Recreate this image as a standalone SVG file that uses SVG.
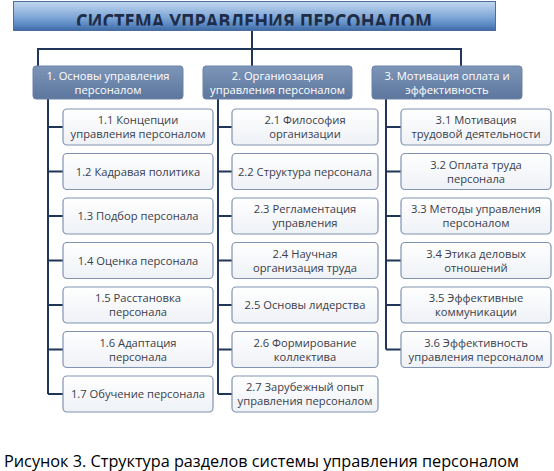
<svg xmlns="http://www.w3.org/2000/svg" width="554" height="471" viewBox="0 0 554 471">
<defs>
<linearGradient id="gTitle" x1="0" y1="0" x2="0" y2="1">
<stop offset="0" stop-color="#c4d8ef"/>
<stop offset="0.55" stop-color="#7ea6d6"/>
<stop offset="0.8" stop-color="#5a88c2"/>
<stop offset="1" stop-color="#3f6aa3"/>
</linearGradient>
<linearGradient id="gL1" x1="0" y1="0" x2="0" y2="1">
<stop offset="0" stop-color="#7d95b8"/>
<stop offset="1" stop-color="#5c769d"/>
</linearGradient>
<linearGradient id="gChild" x1="0" y1="0" x2="0" y2="1">
<stop offset="0" stop-color="#ffffff"/>
<stop offset="1" stop-color="#eef1f6"/>
</linearGradient>
<clipPath id="clipTitle"><rect x="13" y="1" width="483" height="24.5"/></clipPath>
</defs>
<style>
.l1 rect{fill:url(#gL1);stroke:#6d84a8;stroke-width:1}
.l1 text{font-family:"Open Sans","Liberation Sans",sans-serif;font-size:11.2px;fill:#ffffff;text-anchor:middle}
.ch rect{fill:url(#gChild);stroke:#8093b0;stroke-width:1.2}
.ch text{font-family:"Open Sans","Liberation Sans",sans-serif;font-size:11.2px;fill:#3a404c;text-anchor:middle}
.con path{fill:none;stroke:#1f3658;stroke-width:2}
</style>
<rect width="554" height="471" fill="#ffffff"/>
<g id="title">
<rect x="13.5" y="1.5" width="482" height="29" fill="url(#gTitle)" stroke="#4b6e9e" stroke-width="1"/>
<text x="254" y="28.5" clip-path="url(#clipTitle)" font-family="'Open Sans','Liberation Sans',sans-serif" font-size="21" font-weight="bold" fill="#1d2d48" text-anchor="middle" textLength="356" lengthAdjust="spacingAndGlyphs">СИСТЕМА УПРАВЛЕНИЯ ПЕРСОНАЛОМ</text>
</g>
<g class="con">
<path d="M252 31V49M38 66V49H461V66M252 49V66"/>
<path d="M48 99V394M48 127H63M48 171.5H63M48 216H63M48 260.5H63M48 305H63M48 349.5H63M48 394H63"/>
<path d="M218 99V394M218 127H232M218 171.5H232M218 216H232M218 260.5H232M218 305H232M218 349.5H232M218 394H232"/>
<path d="M386 99V349.5M386 127H401M386 171.5H401M386 216H401M386 260.5H401M386 305H401M386 349.5H401"/>
</g>
<g id="n1" class="l1"><rect x="33" y="66" width="150" height="33" rx="3"/><text x="108" y="80">1. Основы управления</text><text x="108" y="94">персоналом</text></g>
<g id="n2" class="l1"><rect x="203" y="66" width="149" height="33" rx="3"/><text x="277.5" y="80">2. Органиозация</text><text x="277.5" y="94">управления персоналом</text></g>
<g id="n3" class="l1"><rect x="372" y="66" width="150" height="33" rx="3"/><text x="447" y="80">3. Мотивация оплата и</text><text x="447" y="94">эффективность</text></g>

<g id="n1_1" class="ch"><rect x="63" y="109" width="150" height="36" rx="4"/><text x="138" y="124">1.1 Концепции</text><text x="138" y="138">управления персоналом</text></g>
<g id="n1_2" class="ch"><rect x="63" y="153.5" width="150" height="36" rx="4"/><text x="138" y="175.5">1.2 Кадравая политика</text></g>
<g id="n1_3" class="ch"><rect x="63" y="198" width="150" height="36" rx="4"/><text x="138" y="220">1.3 Подбор  персонала</text></g>
<g id="n1_4" class="ch"><rect x="63" y="242.5" width="150" height="36" rx="4"/><text x="138" y="264.5">1.4 Оценка персонала</text></g>
<g id="n1_5" class="ch"><rect x="63" y="287" width="150" height="36" rx="4"/><text x="138" y="302">1.5 Расстановка</text><text x="138" y="316">персонала</text></g>
<g id="n1_6" class="ch"><rect x="63" y="331.5" width="150" height="36" rx="4"/><text x="138" y="346.5">1.6 Адаптация</text><text x="138" y="360.5">персонала</text></g>
<g id="n1_7" class="ch"><rect x="63" y="376" width="150" height="36" rx="4"/><text x="138" y="398">1.7 Обучение персонала</text></g>

<g id="n2_1" class="ch"><rect x="232" y="109" width="146" height="36" rx="4"/><text x="305" y="124">2.1 Философия</text><text x="305" y="138">организации</text></g>
<g id="n2_2" class="ch"><rect x="232" y="153.5" width="146" height="36" rx="4"/><text x="305" y="175.5">2.2 Структура  персонала</text></g>
<g id="n2_3" class="ch"><rect x="232" y="198" width="146" height="36" rx="4"/><text x="305" y="213">2.3 Регламентация</text><text x="305" y="227">управления</text></g>
<g id="n2_4" class="ch"><rect x="232" y="242.5" width="146" height="36" rx="4"/><text x="305" y="257.5">2.4 Научная</text><text x="305" y="271.5">организация труда</text></g>
<g id="n2_5" class="ch"><rect x="232" y="287" width="146" height="36" rx="4"/><text x="305" y="309">2.5 Основы  лидерства</text></g>
<g id="n2_6" class="ch"><rect x="232" y="331.5" width="146" height="36" rx="4"/><text x="305" y="346.5">2.6 Формирование</text><text x="305" y="360.5">коллектива</text></g>
<g id="n2_7" class="ch"><rect x="232" y="376" width="146" height="36" rx="4"/><text x="305" y="391">2.7 Зарубежный опыт</text><text x="305" y="405">управления персоналом</text></g>

<g id="n3_1" class="ch"><rect x="401" y="109" width="150" height="36" rx="4"/><text x="476" y="124">3.1 Мотивация</text><text x="476" y="138">трудовой деятельности</text></g>
<g id="n3_2" class="ch"><rect x="401" y="153.5" width="150" height="36" rx="4"/><text x="476" y="168.5">3.2 Оплата труда</text><text x="476" y="182.5">персонала</text></g>
<g id="n3_3" class="ch"><rect x="401" y="198" width="150" height="36" rx="4"/><text x="476" y="213">3.3 Методы управления</text><text x="476" y="227">персоналом</text></g>
<g id="n3_4" class="ch"><rect x="401" y="242.5" width="150" height="36" rx="4"/><text x="476" y="257.5">3.4 Этика деловых</text><text x="476" y="271.5">отношений</text></g>
<g id="n3_5" class="ch"><rect x="401" y="287" width="150" height="36" rx="4"/><text x="476" y="302">3.5 Эффективные</text><text x="476" y="316">коммуникации</text></g>
<g id="n3_6" class="ch"><rect x="401" y="331.5" width="150" height="36" rx="4"/><text x="476" y="346.5">3.6 Эффективность</text><text x="476" y="360.5">управления персоналом</text></g>

<text x="4" y="467" font-family="'Open Sans','Liberation Sans',sans-serif" font-size="16.5" fill="#000000" textLength="515" lengthAdjust="spacingAndGlyphs">Рисунок 3. Структура разделов системы управления персоналом</text>
</svg>
